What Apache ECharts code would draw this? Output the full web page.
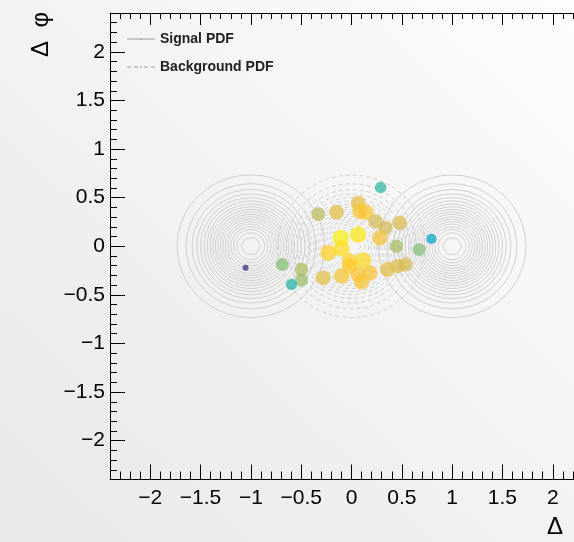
<!DOCTYPE html>
<html>
<head>
<meta charset="utf-8">
<script src="https://cdn.jsdelivr.net/npm/echarts@6/dist/echarts.min.js"></script>
<style>
    html,body{margin:0;padding:0;}
    #main{width:574px;height:542px;background:linear-gradient(to top right,#e8e8e8,#fdfdfd);}
</style>
</head>
<body>
<div id="main"></div>
<script>
// scatter points: position and weight (colour/size)
const pointsX = [0.29,-0.33,-0.149,0.066,0.139,0.083,0.238,0.338,0.48,0.281,0.066,-0.106,-0.099,-0.231,0.447,0.672,0.794,-0.017,0.116,-0.017,0.182,0.066,0.099,-0.099,-0.281,0.357,0.457,0.536,-0.497,-0.497,-0.596,-0.688,-1.053]
const pointsY = [0.605,0.33,0.35,0.444,0.352,0.36,0.256,0.19,0.24,0.085,0.12,0.085,-0.024,-0.069,0.0,-0.034,0.075,-0.154,-0.144,-0.205,-0.274,-0.29,-0.366,-0.308,-0.325,-0.239,-0.205,-0.188,-0.239,-0.349,-0.393,-0.188,-0.222]
const pointsW = [0.5,0.72,0.8,0.8,0.88,0.85,0.76,0.75,0.77,0.84,0.95,0.97,0.93,0.9,0.68,0.62,0.38,0.9,0.92,0.88,0.85,0.87,0.86,0.85,0.8,0.8,0.78,0.76,0.7,0.66,0.48,0.63,0.0]

// contour rings (radius of each level)
const ringRadii = [0.734,0.644,0.584,0.538,0.5,0.466,0.435,0.406,0.379,0.353,0.328,0.303,0.279,0.253,0.228,0.2,0.171,0.138,0.096]
const signalCenters = [[-1,0],[1,0]]
const backgroundCenters = [[0,0]]

// tick labels
const majorTicks = [-2,-1.5,-1,-0.5,0,0.5,1,1.5,2]

const birdColors = ["#352a87","#0f5cdd","#1481d6","#06a4ca","#2eb7a4","#87bf77","#d1bb59","#fec832","#f9fb0e"]
const font = "Liberation Sans, Arial, sans-serif"

const ringData = centers =>{
    const out = []
    centers.forEach(c=>{
        ringRadii.forEach(r=>out.push([c[0],c[1],r]))
    })
    return out
}

const ringRender = dashed => (params,api) =>{
    const c = api.coord([api.value(0),api.value(1)])
    const r = api.value(2)
    const s = api.size([r,r])
    const n = r < 0.12 ? 6 : 40
    const pts = []
    for(let i=0;i<n;i++){
        const a = 2*Math.PI*i/n
        pts.push([c[0]+s[0]*Math.cos(a),c[1]+s[1]*Math.sin(a)])
    }
    return {
        type:"polygon",
        shape:{points:pts},
        style:{fill:"none",stroke:"#cfcfcf",lineWidth:1,lineDash:dashed?[4,3]:null},
        silent:true
    }
}

const fmt = v => String(v).replace("-","\u2212")

const majorAxis = (pos,len,labels) => ({
    type:"value",min:-2.4,max:2.4,position:pos,
    axisLine:{show:true,onZero:false,lineStyle:{color:"#000",width:1}},
    axisTick:{inside:true,length:len,customValues:majorTicks,lineStyle:{color:"#000"}},
    axisLabel:labels ? {customValues:majorTicks,formatter:fmt,fontSize:21,color:"#000",fontFamily:font,margin:labels} : {show:false},
    splitLine:{show:false}
})
const minorAxis = (pos,len) => ({
    type:"value",min:-2.4,max:2.4,interval:0.1,position:pos,
    axisLine:{show:false,onZero:false},
    axisTick:{inside:true,length:len,lineStyle:{color:"#000"}},
    axisLabel:{show:false},
    splitLine:{show:false}
})

const sigIcon = "path://M0,0h0.01v0.01h-0.01z M27.99,13.99h0.01v0.01h-0.01z M0,6.5h28v1h-28z M13.2,6.2h1.6v1.6h-1.6z"
const bgIcon = "path://M0,0h0.01v0.01h-0.01z M27.99,13.99h0.01v0.01h-0.01z M0,6.5h4v1h-4z M7,6.5h4v1h-4z M17,6.5h4v1h-4z M24,6.5h4v1h-4z M13.2,6.2h1.6v1.6h-1.6z"

const chart = echarts.init(document.getElementById("main"))
const option = {
    animation:false,
    grid:{left:110,top:13,right:-19,bottom:62.5,containLabel:false,outerBoundsMode:"none"},
    legend:{
        left:127,top:32,orient:"vertical",itemWidth:28,itemHeight:14,itemGap:14,padding:0,
        selectedMode:false,
        textStyle:{fontWeight:"bold",fontSize:14,color:"#222",fontFamily:font},
        data:[{name:"Signal PDF",icon:sigIcon},{name:"Background PDF",icon:bgIcon}]
    },
    xAxis:[majorAxis("bottom",15,8),minorAxis("bottom",8),majorAxis("top",12,0),minorAxis("top",6)],
    yAxis:[majorAxis("left",15,5),minorAxis("left",7)],
    visualMap:{
        show:false,type:"continuous",min:0,max:1,dimension:2,seriesIndex:2,
        inRange:{color:birdColors,symbolSize:[6,17]}
    },
    graphic:[
        {type:"text",x:41,y:12,rotation:Math.PI/2,
            style:{text:"\u0394  \u03c6",fontSize:24,fontFamily:font,fill:"#000",align:"right",verticalAlign:"middle"}},
        {type:"text",x:547,y:527,
            style:{text:"\u0394  \u03b7",fontSize:24,fontFamily:font,fill:"#000",align:"left",verticalAlign:"middle"}}
    ],
    series:[
        {
            name:"Signal PDF",type:"custom",xAxisIndex:0,yAxisIndex:0,clip:true,
            itemStyle:{color:"#9a9a9a"},
            renderItem:ringRender(false),
            data:ringData(signalCenters)
        },
        {
            name:"Background PDF",type:"custom",xAxisIndex:0,yAxisIndex:0,clip:true,
            itemStyle:{color:"#9a9a9a"},
            renderItem:ringRender(true),
            data:ringData(backgroundCenters)
        },
        {
            name:"points",type:"scatter",xAxisIndex:0,yAxisIndex:0,
            itemStyle:{opacity:0.75},
            data:pointsX.map((x,i)=>[x,pointsY[i],pointsW[i]])
        }
    ]
}
chart.setOption(option)
</script>
</body>
</html>
